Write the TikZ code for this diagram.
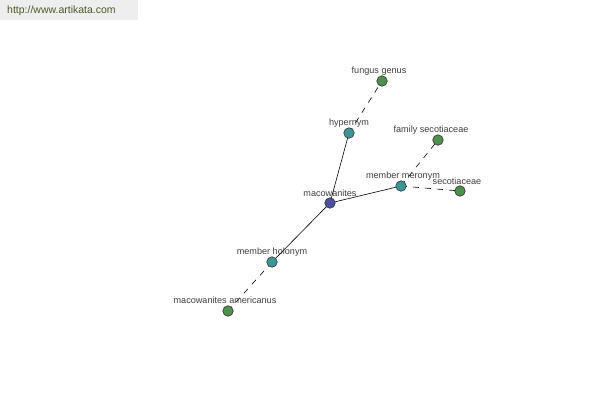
\documentclass[tikz,border=0pt]{standalone}
\usepackage{fontspec}
\setmainfont{Liberation Sans}
\begin{document}
\begin{tikzpicture}[x=1pt,y=-1pt,
  dot/.style={circle,draw=black!80,line width=0.6pt,minimum size=10.5pt,inner sep=0pt},
  rootdot/.style={dot,fill=rootc},
  reldot/.style={dot,fill=relc},
  leafdot/.style={dot,fill=leafc},
  lbl/.style={font=\fontsize{9.1}{11}\selectfont,text=black!75,inner sep=0pt},
  solidedge/.style={draw=black,line width=0.6pt},
  dashedge/.style={draw=black,line width=0.6pt,dash pattern=on 6pt off 6pt}]
\definecolor{rootc}{HTML}{4B4F9C}
\definecolor{relc}{HTML}{3F9595}
\definecolor{leafc}{HTML}{4F8F4F}
\definecolor{hdrbg}{HTML}{EEEEEE}
\definecolor{hdrtx}{HTML}{4A5A2A}
\useasboundingbox[fill=white] (0,0) rectangle (600,400);
\fill[hdrbg] (0,0) rectangle (138,20);
\node[font=\fontsize{10.5}{12}\selectfont,text=hdrtx,anchor=west,inner sep=0pt] (hdr) at (7,10.5) {http://www.artikata.com};
% node positions
\coordinate (pm) at (330,203);
\coordinate (ph) at (349,133);
\coordinate (pf) at (382,81);
\coordinate (pmm) at (401,186);
\coordinate (pfs) at (438,140);
\coordinate (ps) at (460,191);
\coordinate (pmh) at (272,262);
\coordinate (pma) at (228,311);
% edges
\draw[solidedge] (pm) -- (ph);
\draw[solidedge] (pm) -- (pmm);
\draw[solidedge] (pm) -- (pmh);
\draw[dashedge] (ph) -- (pf);
\draw[dashedge] (pmm) -- (pfs);
\draw[dashedge] (pmm) -- (ps);
\draw[dashedge] (pmh) -- (pma);
% dots
\node[rootdot] (m) at (pm) {};
\node[reldot] (h) at (ph) {};
\node[leafdot] (f) at (pf) {};
\node[reldot] (mm) at (pmm) {};
\node[leafdot] (fs) at (pfs) {};
\node[leafdot] (s) at (ps) {};
\node[reldot] (mh) at (pmh) {};
\node[leafdot] (ma) at (pma) {};
% labels
\node[lbl] (lm) at (330,193) {macowanites};
\node[lbl] (lh) at (349,123) {hypernym};
\node[lbl] (lf) at (379,71) {fungus genus};
\node[lbl] (lmm) at (403,176) {member meronym};
\node[lbl] (lfs) at (431,130) {family secotiaceae};
\node[lbl] (ls) at (457,181) {secotiaceae};
\node[lbl] (lmh) at (272,252) {member holonym};
\node[lbl] (lma) at (225,300) {macowanites americanus};
\end{tikzpicture}
\end{document}
